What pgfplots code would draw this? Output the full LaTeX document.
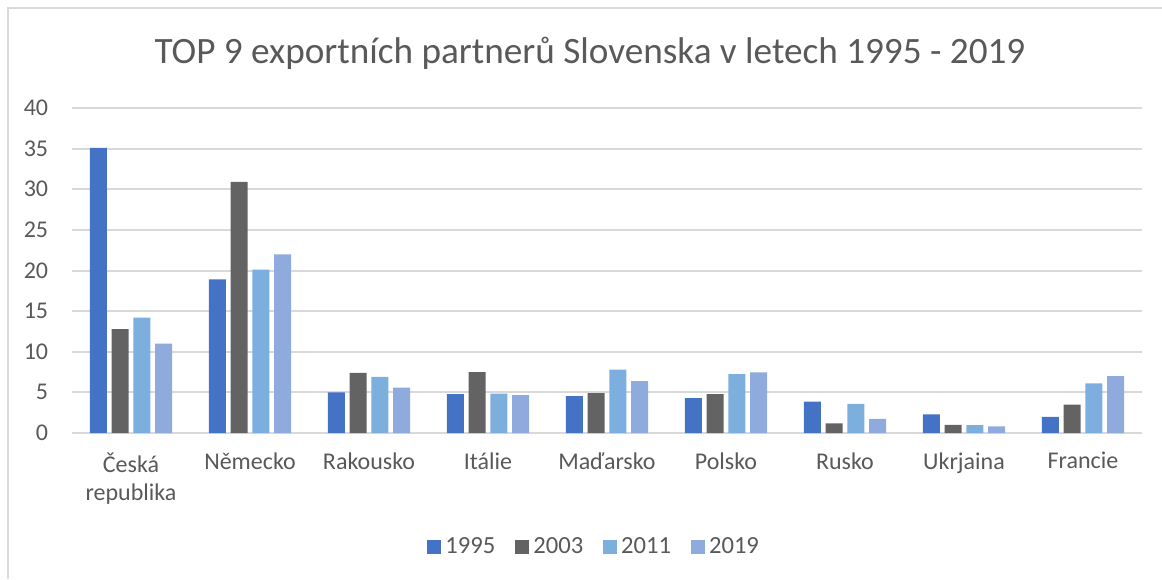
\documentclass[border=0pt]{standalone}
\usepackage{pgfplots}
\pgfplotsset{compat=1.18}
\usepackage{pgfplotstable}
\usepackage{fontspec}
\setmainfont{Carlito}
\definecolor{cA}{HTML}{4472C4}
\definecolor{cB}{HTML}{636363}
\definecolor{cC}{HTML}{7CAFDD}
\definecolor{cD}{HTML}{8FAADC}
\definecolor{gridc}{HTML}{D9D9D9}
\definecolor{txt}{HTML}{595959}
\pgfplotstableread{
x a b c d
0 35.1 12.8 14.2 11.0
1 18.9 30.9 20.1 22.0
2 5.0 7.4 6.9 5.6
3 4.8 7.5 4.85 4.65
4 4.55 4.9 7.8 6.4
5 4.3 4.8 7.25 7.45
6 3.85 1.2 3.6 1.75
7 2.3 1.0 0.98 0.82
8 2.0 3.5 6.1 7.0
}\data
\begin{document}
\begin{tikzpicture}
\useasboundingbox (0,0) rectangle (581pt,289.5pt);
\draw[gridc, line width=1pt] (4pt,0) -- (4pt,285.5pt) -- (581pt,285.5pt);
\node[text=txt, font=\fontsize{18.6}{22}\selectfont] at (295pt,263pt) {TOP 9 exportních partnerů Slovenska v letech 1995 - 2019};
\begin{axis}[
  at={(35.75pt,73pt)}, anchor=south west,
  scale only axis, width=535.5pt, height=162.5pt,
  ybar=2.35pt, bar width=8.5pt,
  xmin=-0.5, xmax=8.5, ymin=0, ymax=40,
  ytick={0,5,...,40},
  xtick=data,
  xticklabels={{Česká\\republika},Německo,Rakousko,Itálie,Maďarsko,Polsko,Rusko,Ukrjaina,Francie},
  x tick label style={align=center, text=txt, font=\fontsize{12}{14}\selectfont, inner sep=0pt, anchor=north, yshift=-9.5pt},
  y tick label style={text=txt, font=\fontsize{12}{14}\selectfont, inner sep=0pt, anchor=east, xshift=-11.5pt},
  /pgf/number format/assume math mode=true,
  major tick length=0pt,
  axis line style={draw=none},
  ymajorgrids, grid style={gridc, line width=1pt},
  every axis plot/.append style={draw=none},
  legend style={at={(0.489,-0.351)}, anchor=center, draw=none, legend columns=-1,
    font=\fontsize{12.3}{14}\selectfont, text=txt,
    /tikz/every even column/.append style={column sep=8pt}},
  legend image code/.code={\fill[#1] (0pt,-3.5pt) rectangle (7pt,3.5pt);},
]
\addplot[fill=cA] table[x=x,y=a] {\data};
\addplot[fill=cB] table[x=x,y=b] {\data};
\addplot[fill=cC] table[x=x,y=c] {\data};
\addplot[fill=cD] table[x=x,y=d] {\data};
\legend{1995,2003,2011,2019}
\end{axis}
\end{tikzpicture}
\end{document}
